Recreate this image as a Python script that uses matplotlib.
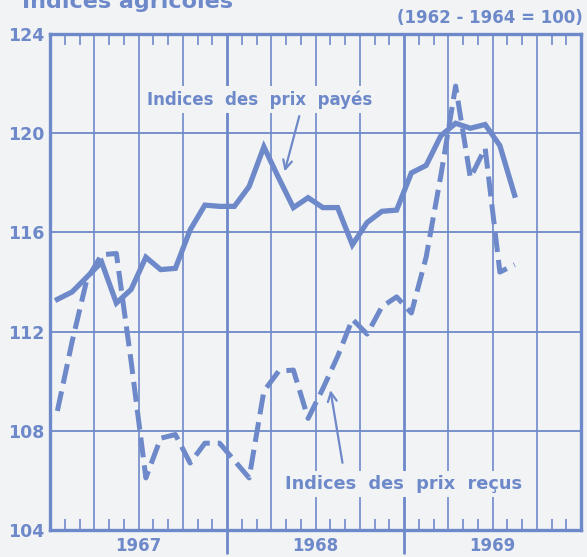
import matplotlib
matplotlib.use("Agg")
import matplotlib.pyplot as plt
import matplotlib.transforms as mtransforms

# monthly values, Jan 1967 .. Aug 1969
months = list(range(32))
prix_payes = [113.3, 113.6, 114.2, 114.8, 113.15, 113.7, 115.0, 114.5, 114.55, 116.1,
              117.1, 117.05, 117.05, 117.85, 119.45, 118.2, 117.0, 117.4, 117.0, 117.0,
              115.5, 116.4, 116.85, 116.9, 118.4, 118.7, 119.9, 120.4, 120.2, 120.35,
              119.5, 117.5]
prix_recus = [108.8, 111.6, 114.1, 115.1, 115.15, 110.8, 106.1, 107.7, 107.85, 106.7,
              107.5, 107.5, 106.8, 106.1, 109.6, 110.4, 110.45, 108.5, 109.7, 111.0,
              112.5, 111.9, 113.0, 113.4, 112.75, 115.0, 118.3, 121.9, 118.2, 119.4,
              114.4, 114.7]
years = ["1967", "1968", "1969"]
y_ticks = [104, 108, 112, 116, 120, 124]

blue = "#6e89c9"
bg = "#f2f3f5"

fig = plt.figure(figsize=(5.87, 5.57), dpi=100, facecolor=bg)
ax = fig.add_axes([50 / 587, 1 - 530 / 557, 531 / 587, 496 / 557], facecolor=bg)

x = [m + 0.5 for m in months]

# grid
for v in y_ticks[1:-1]:
    ax.axhline(v, color=blue, lw=1.3, zorder=1)
for q in range(3, 36, 3):
    ax.axvline(q, color=blue, lw=2.0 if q % 12 == 0 else 1.2, zorder=1)

ax.plot(x, prix_payes, color=blue, lw=3.8, solid_joinstyle="miter", zorder=3)
ax.plot(x, prix_recus, color=blue, lw=3.6, dashes=(4, 1.6), zorder=3)

ax.set_xlim(0, 36)
ax.set_ylim(104, 124)

for s in ax.spines.values():
    s.set_color(blue)
    s.set_linewidth(2.4)

ax.set_yticks(y_ticks)
ax.set_yticklabels([str(v) for v in y_ticks])
ax.set_xticks([12, 24])
ax.set_xticklabels([])
ax.set_xticks([m for m in range(1, 36) if m % 3], minor=True)
ax.tick_params(axis="y", length=0, pad=4, labelsize=12.5, labelcolor=blue)
ax.tick_params(axis="x", which="major", direction="out", length=17, width=2, color=blue)
ax.tick_params(axis="x", which="minor", direction="in", length=8, width=1.2,
               color=blue, top=True, bottom=True)
for lab in ax.get_yticklabels():
    lab.set_fontweight("bold")

trans = mtransforms.blended_transform_factory(ax.transData, ax.transAxes)
for i, yr in enumerate(years):
    ax.text(6 + 12 * i, -0.033, yr, transform=trans, ha="center", va="center",
            fontsize=12, fontweight="bold", color=blue)

ax.text(6.6, 121.35, "Indices  des  prix  payés", ha="left", va="center",
        fontsize=12, fontweight="bold", color=blue, zorder=4,
        bbox=dict(facecolor=bg, edgecolor="none", pad=3))
ax.text(15.9, 105.85, "Indices  des  prix  reçus", ha="left", va="center",
        fontsize=12.8, fontweight="bold", color=blue, zorder=4,
        bbox=dict(facecolor=bg, edgecolor="none", pad=3))

arrow = dict(arrowstyle="->", lw=1.6, color=blue, mutation_scale=16)
ax.annotate("", xy=(15.86, 118.35), xytext=(16.95, 120.8), arrowprops=arrow, zorder=4)
ax.annotate("", xy=(18.98, 109.75), xytext=(19.86, 106.6), arrowprops=arrow, zorder=4)

fig.text(1 - 4 / 587, 1 - 18 / 557, "(1962 - 1964 = 100)", ha="right", va="center",
         fontsize=12, fontweight="bold", color=blue)
fig.text(22 / 587, 1 - 8 / 557, "Indices agricoles", ha="left", va="baseline",
         fontsize=16, fontweight="bold", color=blue)

fig.savefig("out.png", dpi=100, facecolor=bg)
